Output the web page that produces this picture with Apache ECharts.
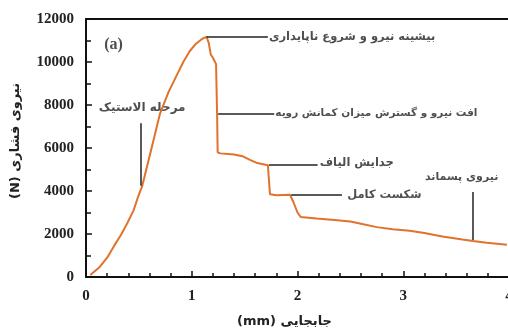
<!DOCTYPE html>
<html>
<head>
<meta charset="utf-8">
<script src="https://cdn.jsdelivr.net/npm/echarts@6/dist/echarts.min.js"></script>
<style>
  html, body { margin: 0; padding: 0; background: #fff; }
  #chart { width: 508px; height: 329px; }
</style>
</head>
<body>
<div id="chart"></div>
<script>
// displacement (mm) / compressive force (N)
var displacement = [0.04, 0.13, 0.20, 0.26, 0.33, 0.39, 0.45, 0.49, 0.53, 0.58, 0.64, 0.70, 0.78, 0.86, 0.92, 0.98,
    1.04, 1.10, 1.14, 1.16, 1.18, 1.20, 1.23, 1.24, 1.245, 1.27, 1.40, 1.48, 1.55, 1.62, 1.72, 1.73, 1.74, 1.80,
    1.93, 1.96, 2.00, 2.03, 2.18, 2.35, 2.50, 2.60, 2.75, 2.90, 3.06, 3.20, 3.37, 3.56, 3.66, 3.79, 3.98];
var force = [90, 470, 900, 1400, 1950, 2500, 3100, 3700, 4200, 5200, 6400, 7600, 8600, 9400, 10000, 10500,
    10850, 11080, 11170, 10900, 10350, 10200, 9900, 7500, 5800, 5750, 5700, 5620, 5450, 5300, 5200, 4500, 3850, 3800,
    3820, 3500, 3000, 2790, 2720, 2650, 2580, 2480, 2320, 2220, 2150, 2050, 1880, 1740, 1670, 1590, 1500];

// annotation texts and their anchor (data coords); the last one is anchored by its right end
var noteText = ['بیشینه نیرو و شروع ناپایداری', 'افت نیرو و گسترش میزان کمانش رویه', 'جدایش الیاف',
    'شکست کامل', 'مرحله الاستیک', 'نیروی پسماند'];
var noteX = [1.73, 1.79, 2.21, 2.47, 0.12, 3.90];
var noteY = [11170, 7600, 5300, 3820, 7860, 4650];
// leader lines: [x1, y1, x2, y2]
var leaders = [
    [1.14, 11170, 1.72, 11170],
    [1.25, 7600, 1.78, 7600],
    [1.73, 5210, 2.19, 5210],
    [1.94, 3810, 2.42, 3810],
    [0.52, 4250, 0.52, 7150],
    [3.66, 1720, 3.66, 3950]
];

var myChart = echarts.init(document.getElementById('chart'), null, {renderer: 'canvas'});

var serif = '"Liberation Serif", "Times New Roman", serif';
var faFont = '"DejaVu Sans", sans-serif';
var plain = function (v) { return String(v); };
var noteFontSize = [11.5, 10.5, 11.5, 11.5, 12, 11];
var notePos = ['right', 'right', 'right', 'right', 'right', 'left'];

var seriesData = [];
for (var i = 0; i < displacement.length; i++) {
    seriesData.push([displacement[i], force[i]]);
}
var leaderData = [];
for (var j = 0; j < leaders.length; j++) {
    leaderData.push([{coord: [leaders[j][0], leaders[j][1]]}, {coord: [leaders[j][2], leaders[j][3]]}]);
}
var noteData = [];
for (var k = 0; k < noteText.length; k++) {
    noteData.push({
        value: [noteX[k], noteY[k]], name: noteText[k],
        label: {fontSize: noteFontSize[k], position: notePos[k]}
    });
}

var option = {
    animation: false,
    grid: {left: 86, top: 19, right: -1, bottom: 52, containLabel: false, outerBoundsMode: 'none'},
    xAxis: [{
        type: 'value',
        min: 0, max: 4, interval: 1,
        name: '(mm) جابجایی',
        nameLocation: 'middle',
        nameGap: 38,
        nameTextStyle: {fontFamily: faFont, fontWeight: 'bold', fontSize: 13, color: '#222', padding: [0, 26, 0, 0]},
        axisLine: {lineStyle: {color: '#111', width: 2}},
        axisTick: {inside: true, length: 6, lineStyle: {color: '#111', width: 1.5}},
        minorTick: {show: true, splitNumber: 5, length: 4, lineStyle: {color: '#111', width: 1.5}},
        axisLabel: {margin: 12, formatter: plain, fontFamily: serif, fontWeight: 'bold', fontSize: 15, color: '#222'},
        splitLine: {show: false}
    }, {
        type: 'value', position: 'top', min: 0, max: 4,
        axisLine: {show: true, lineStyle: {color: '#111', width: 2}},
        axisTick: {show: false}, axisLabel: {show: false}, splitLine: {show: false}
    }],
    yAxis: {
        type: 'value',
        min: 0, max: 12000, interval: 2000,
        name: '(N) نیروی فشاری',
        nameLocation: 'middle',
        nameRotate: 90,
        nameGap: 64,
        nameTextStyle: {fontFamily: faFont, fontWeight: 'bold', fontSize: 13, color: '#222', padding: [0, 0, 0, 14]},
        axisLine: {show: true, lineStyle: {color: '#111', width: 2}},
        axisTick: {inside: true, length: 6, lineStyle: {color: '#111', width: 1.5}},
        minorTick: {show: true, splitNumber: 2, length: 5, lineStyle: {color: '#111', width: 1.5}},
        axisLabel: {margin: 12, formatter: plain, fontFamily: serif, fontWeight: 'bold', fontSize: 15, color: '#222'},
        splitLine: {show: false}
    },
    series: [{
        name: 'force',
        type: 'line',
        data: seriesData,
        showSymbol: false,
        lineStyle: {color: '#e0722c', width: 2},
        z: 3,
        markLine: {
            silent: true,
            symbol: ['none', 'none'],
            label: {show: false},
            lineStyle: {color: '#222', width: 1.5, type: 'solid'},
            data: leaderData
        }
    }, {
        name: 'notes',
        type: 'scatter',
        data: noteData,
        symbolSize: 0,
        silent: true,
        label: {
            show: true, position: 'right', distance: 0,
            formatter: '{b}',
            fontFamily: faFont, fontWeight: 'bold', fontSize: 11.5, color: '#222'
        }
    }, {
        name: 'tag',
        type: 'scatter',
        data: [{value: [0.26, 10790], name: '(a)'}],
        symbolSize: 0,
        silent: true,
        label: {show: true, position: 'inside', formatter: '{b}',
            fontFamily: serif, fontWeight: 'bold', fontSize: 16, color: '#222'}
    }]
};

myChart.setOption(option);
</script>
</body>
</html>
